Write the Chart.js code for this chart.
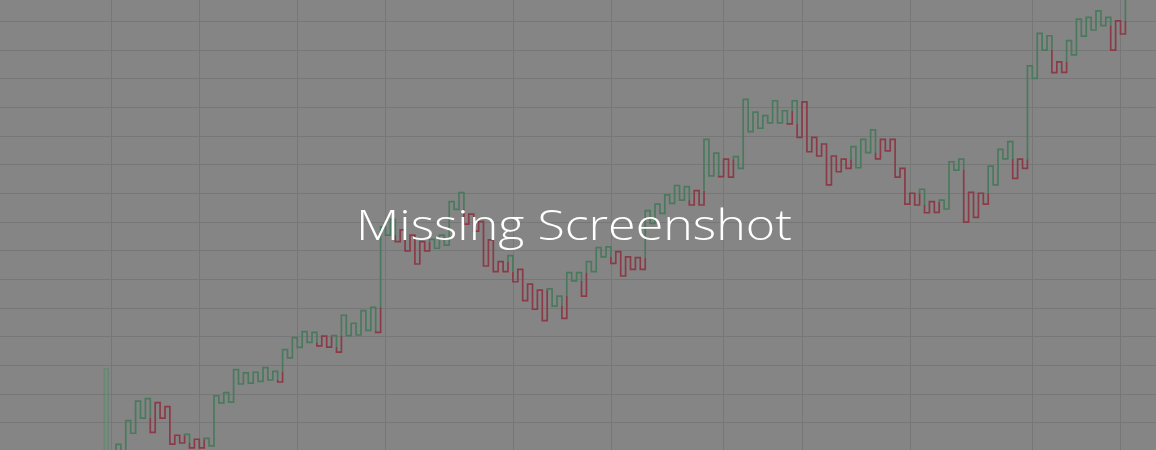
<!DOCTYPE html>
<html>
<head>
<meta charset="utf-8">
<script src="https://cdn.jsdelivr.net/npm/chart.js@4.4.1/dist/chart.umd.min.js"></script>
<style>
  html, body { margin: 0; padding: 0; background: #858585; }
  #wrap { position: relative; width: 1156px; height: 450px; overflow: hidden; background: #858585; }
  #note {
    position: absolute; left: 356px; top: 200px; margin: 0;
    color: #ffffff; font-family: "Open Sans", sans-serif; font-weight: 300;
    font-size: 42px; line-height: 48px; white-space: nowrap; transform-origin: 0 0;
  }
</style>
</head>
<body>
<div id="wrap">
  <canvas id="kagiChart" width="1156" height="450"></canvas>
  <div id="note">Missing Screenshot</div>
</div>
<script>
// kagi turning prices, one per column (first one is the starting price)
var levels = [
  -3.0, 2.4, -1.3, 10.7, 6.3, 17.5, 11.6, 18.4, 6.6, 17.0,
  11.6, 15.6, 2.5, 5.6, 2.9, 5.9, 1.2, 4.2, 1.2, 4.5,
  1.9, 19.4, 16.9, 20.5, 17.2, 28.5, 23.5, 27.4, 23.8, 27.6,
  24.4, 29.2, 24.9, 27.9, 24.2, 35.5, 32.6, 39.7, 36.3, 41.8,
  38.0, 41.5, 36.8, 40.2, 36.4, 40.4, 34.6, 47.5, 40.4, 44.7,
  40.6, 49.1, 42.2, 50.3, 41.5, 78.4, 75.5, 81.0, 73.2, 77.3,
  70.0, 75.5, 65.4, 73.2, 70.0, 74.0, 70.9, 75.5, 72.0, 87.2,
  84.5, 90.3, 79.3, 82.8, 76.9, 80.2, 64.7, 73.8, 62.7, 66.2,
  62.7, 68.3, 59.2, 63.5, 52.6, 58.4, 49.6, 56.3, 45.6, 56.7,
  50.7, 54.2, 46.4, 62.4, 59.5, 62.4, 54.2, 66.2, 62.7, 71.1,
  67.9, 71.4, 65.6, 69.7, 61.2, 67.9, 63.5, 67.6, 63.5, 84.0,
  79.6, 86.3, 83.1, 89.5, 86.6, 92.8, 87.7, 92.4, 86.0, 91.0,
  86.0, 108.9, 96.2, 104.1, 95.9, 102.0, 95.7, 102.9, 98.8, 122.9,
  111.6, 118.4, 112.8, 117.2, 114.7, 122.4, 114.7, 118.9, 114.3, 122.4,
  109.6, 122.0, 104.6, 109.6, 103.1, 107.3, 93.0, 103.1, 97.6, 102.0,
  98.8, 106.4, 99.0, 108.9, 104.3, 112.2, 102.1, 108.9, 104.9, 108.9,
  95.7, 98.8, 86.3, 90.1, 86.0, 91.5, 83.3, 87.2, 83.4, 87.7,
  84.6, 101.1, 98.2, 102.0, 80.0, 90.4, 81.7, 90.1, 86.3, 99.6,
  93.0, 105.4, 102.1, 108.1, 95.3, 102.0, 98.8, 134.6, 130.2, 145.9,
  140.1, 145.1, 132.2, 136.0, 132.3, 143.4, 138.4, 150.9, 145.0, 151.5,
  147.1, 153.8, 148.6, 151.5, 140.1, 150.3, 145.7, 161.8
];

// the pale bar left of the first column
var markerCol = -1;
var markerRange = [-3, 29];

// grid positions (column units / price units)
var xGridCols = [0.1, 18.1, 38, 56.1, 82.1, 102.2, 124.9, 141.1, 163.2, 188.1, 206];
var yGridTicks = [10, 20, 30, 40, 50, 60, 70, 80, 90, 100, 110, 120, 130, 140, 150];

var GREEN = '#4a7a5e';
var RED = '#8b3b47';

// kagi path: vertical at column k, then horizontal to k+1.
// colour flips when a rise passes the last shoulder or a fall passes the last waist
var pts = [{ x: 1, y: levels[0] }];
var segCol = [];
var state = GREEN;
for (var k = 1; k < levels.length; k++) {
  var from = levels[k - 1], to = levels[k];
  if (k >= 2) {
    var prev = levels[k - 2];
    if (to > from && state === RED && to > prev) {
      segCol.push(RED); pts.push({ x: k, y: prev }); state = GREEN;
    } else if (to < from && state === GREEN && to < prev) {
      segCol.push(GREEN); pts.push({ x: k, y: prev }); state = RED;
    }
  }
  segCol.push(state); pts.push({ x: k, y: to });
  if (k < levels.length - 1) { segCol.push(state); pts.push({ x: k + 1, y: to }); }
}

var ctx = document.getElementById('kagiChart').getContext('2d');
var myChart = new Chart(ctx, {
  type: 'line',
  data: {
    datasets: [{
      label: 'Kagi',
      data: pts,
      borderWidth: 1.7,
      borderColor: GREEN,
      borderJoinStyle: 'miter',
      borderCapStyle: 'butt',
      pointRadius: 0,
      tension: 0,
      segment: {
        borderColor: function (c) { return segCol[c.p0DataIndex]; }
      }
    }, {
      type: 'bar',
      label: 'Marker',
      data: [{ x: markerCol, y: markerRange }],
      barThickness: 5,
      backgroundColor: 'rgba(100,150,118,0.35)',
      borderColor: 'rgba(80,130,100,0.45)',
      borderWidth: 1,
      borderSkipped: false
    }]
  },
  options: {
    responsive: false,
    animation: false,
    layout: { padding: 0 },
    plugins: { legend: { display: false }, tooltip: { enabled: false } },
    scales: {
      x: {
        type: 'linear',
        min: -22.67, max: 213.24,
        offset: false,
        border: { display: false },
        grid: { color: '#777777', lineWidth: 1, drawTicks: false, offset: false },
        ticks: { display: false },
        afterBuildTicks: function (axis) { axis.ticks = xGridCols.map(function (v) { return { value: v }; }); }
      },
      y: {
        min: 0.45, max: 157.58,
        border: { display: false },
        grid: { color: '#777777', lineWidth: 1, drawTicks: false },
        ticks: { display: false },
        afterBuildTicks: function (axis) { axis.ticks = yGridTicks.map(function (v) { return { value: v }; }); }
      }
    }
  }
});

// stretch the caption to the reference width
function fitNote() {
  var note = document.getElementById('note');
  note.style.transform = 'none';
  var w = note.getBoundingClientRect().width;
  note.style.transform = 'scaleX(' + (436 / w) + ')';
}
fitNote();
if (document.fonts && document.fonts.ready) document.fonts.ready.then(fitNote);
</script>
</body>
</html>
